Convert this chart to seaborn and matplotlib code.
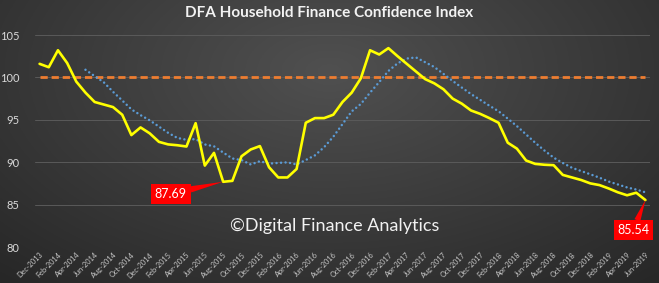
import numpy as np
import pandas as pd
import matplotlib
matplotlib.use("Agg")
import matplotlib.pyplot as plt
import seaborn as sns

# ---- data ----
months = pd.date_range("2013-12-01", "2019-06-01", freq="MS")
month_labels = [d.strftime("%b-%Y") for d in months]
index_values = [
    101.6, 101.2, 103.2, 101.7, 99.5, 98.2, 97.1, 96.8, 96.5, 95.6,
    93.2, 94.1, 93.4, 92.4, 92.1, 92.0, 91.85, 94.6, 89.6, 91.1,
    87.69, 87.8, 90.7, 91.5, 91.9, 89.4, 88.2, 88.2, 89.2, 94.65,
    95.2, 95.2, 95.6, 97.1, 98.2, 99.9, 103.2, 102.7, 103.45, 102.5,
    101.6, 100.7, 99.8, 99.3, 98.6, 97.5, 96.9, 96.1, 95.7, 95.2,
    94.65, 92.3, 91.6, 90.2, 89.8, 89.7, 89.65, 88.5, 88.2, 87.9,
    87.5, 87.3, 86.9, 86.45, 86.1, 86.4, 85.54,
]
baseline = 100
ma_window = 6
yticks = [80, 85, 90, 95, 100, 105]
title = "DFA Household Finance Confidence Index"
watermark = "\u00a9Digital Finance Analytics"

df = pd.DataFrame({"m": np.arange(len(index_values)), "value": index_values})
df["ma"] = df["value"].rolling(ma_window).mean()

sns.set_theme(style="dark")
plt.rcParams["font.family"] = ["Lato", "DejaVu Sans"]

W, H = 659, 283
fig = plt.figure(figsize=(W / 100, H / 100), dpi=100)

# background radial gradient
bg = fig.add_axes([0, 0, 1, 1], zorder=0)
yy, xx = np.mgrid[0:1:200j, 0:1:400j]
r = np.sqrt(((xx - 0.5) / 0.75) ** 2 + ((yy - 0.25) / 1.0) ** 2)
r = np.clip(r, 0, 1)
c_in = np.array([0x50, 0x50, 0x50]) / 255
c_out = np.array([0x27, 0x27, 0x27]) / 255
img = c_in[None, None, :] * (1 - r[..., None]) + c_out[None, None, :] * r[..., None]
bg.imshow(img, aspect="auto", extent=[0, 1, 0, 1], origin="upper")
bg.set_axis_off()

ax = fig.add_axes([35 / W, 36 / H, 615 / W, 212 / H], zorder=1)
ax.set_facecolor("none")

ax.hlines(baseline, 0, len(index_values) - 1, colors="#ed7d31", linewidth=2.0,
          linestyles=(0, (2.6, 1.4)), zorder=2)
sns.lineplot(data=df, x="m", y="ma", ax=ax, color="#5b9bd5", linewidth=1.8,
             linestyle=(0, (0.01, 1.8)), dash_capstyle="round", zorder=3)
sns.lineplot(data=df, x="m", y="value", ax=ax, color="#ffff00", linewidth=1.9, zorder=4)

ax.set_xlim(-0.5, len(index_values) - 0.5)
ax.set_ylim(80, 105)
ax.set_yticks(yticks)
ax.set_yticklabels([str(t) for t in yticks], color="#d9d9d9", fontsize=8)
tick_pos = list(range(0, len(index_values), 2))
ax.set_xticks(tick_pos)
ax.set_xticklabels([month_labels[i] for i in tick_pos], rotation=45, ha="right",
                   rotation_mode="anchor", fontsize=5.3, color="#c8c8c8")
ax.tick_params(axis="x", length=0, pad=3)
ax.tick_params(axis="y", length=0, pad=11)
ax.set_xlabel("")
ax.set_ylabel("")
ax.grid(axis="y", color="#5a5a5a", linewidth=0.7)
ax.grid(axis="x", visible=False)
for s in ax.spines.values():
    s.set_visible(False)

# callouts
i_min = 20
ax.annotate(f"{index_values[i_min]:.2f}", xy=(i_min, index_values[i_min]), xytext=(14.3, 86.25),
            ha="center", va="center", color="white", fontsize=9,
            bbox=dict(boxstyle="square,pad=0.3", fc="#ff0000", ec="none"),
            arrowprops=dict(arrowstyle="wedge,tail_width=0.5,shrink_factor=0.5",
                            fc="#ff0000", ec="none", shrinkA=0, shrinkB=0),
            zorder=6)
i_last = len(index_values) - 1
ax.annotate(f"{index_values[i_last]:.2f}", xy=(i_last, index_values[i_last]), xytext=(64.7, 82.0),
            ha="center", va="center", color="white", fontsize=9,
            bbox=dict(boxstyle="square,pad=0.3", fc="#ff0000", ec="none"),
            arrowprops=dict(arrowstyle="wedge,tail_width=0.5,shrink_factor=0.5",
                            fc="#ff0000", ec="none", shrinkA=0, shrinkB=0),
            zorder=6)

fig.text(0.5, 1 - 13 / H, title, ha="center", va="center", color="#f2f2f2",
         fontsize=11, fontweight="bold")
fig.text(335 / W, 1 - 226 / H, watermark, ha="center", va="center", color="#f2f2f2",
         fontsize=13)

fig.savefig("out.png", dpi=100)
